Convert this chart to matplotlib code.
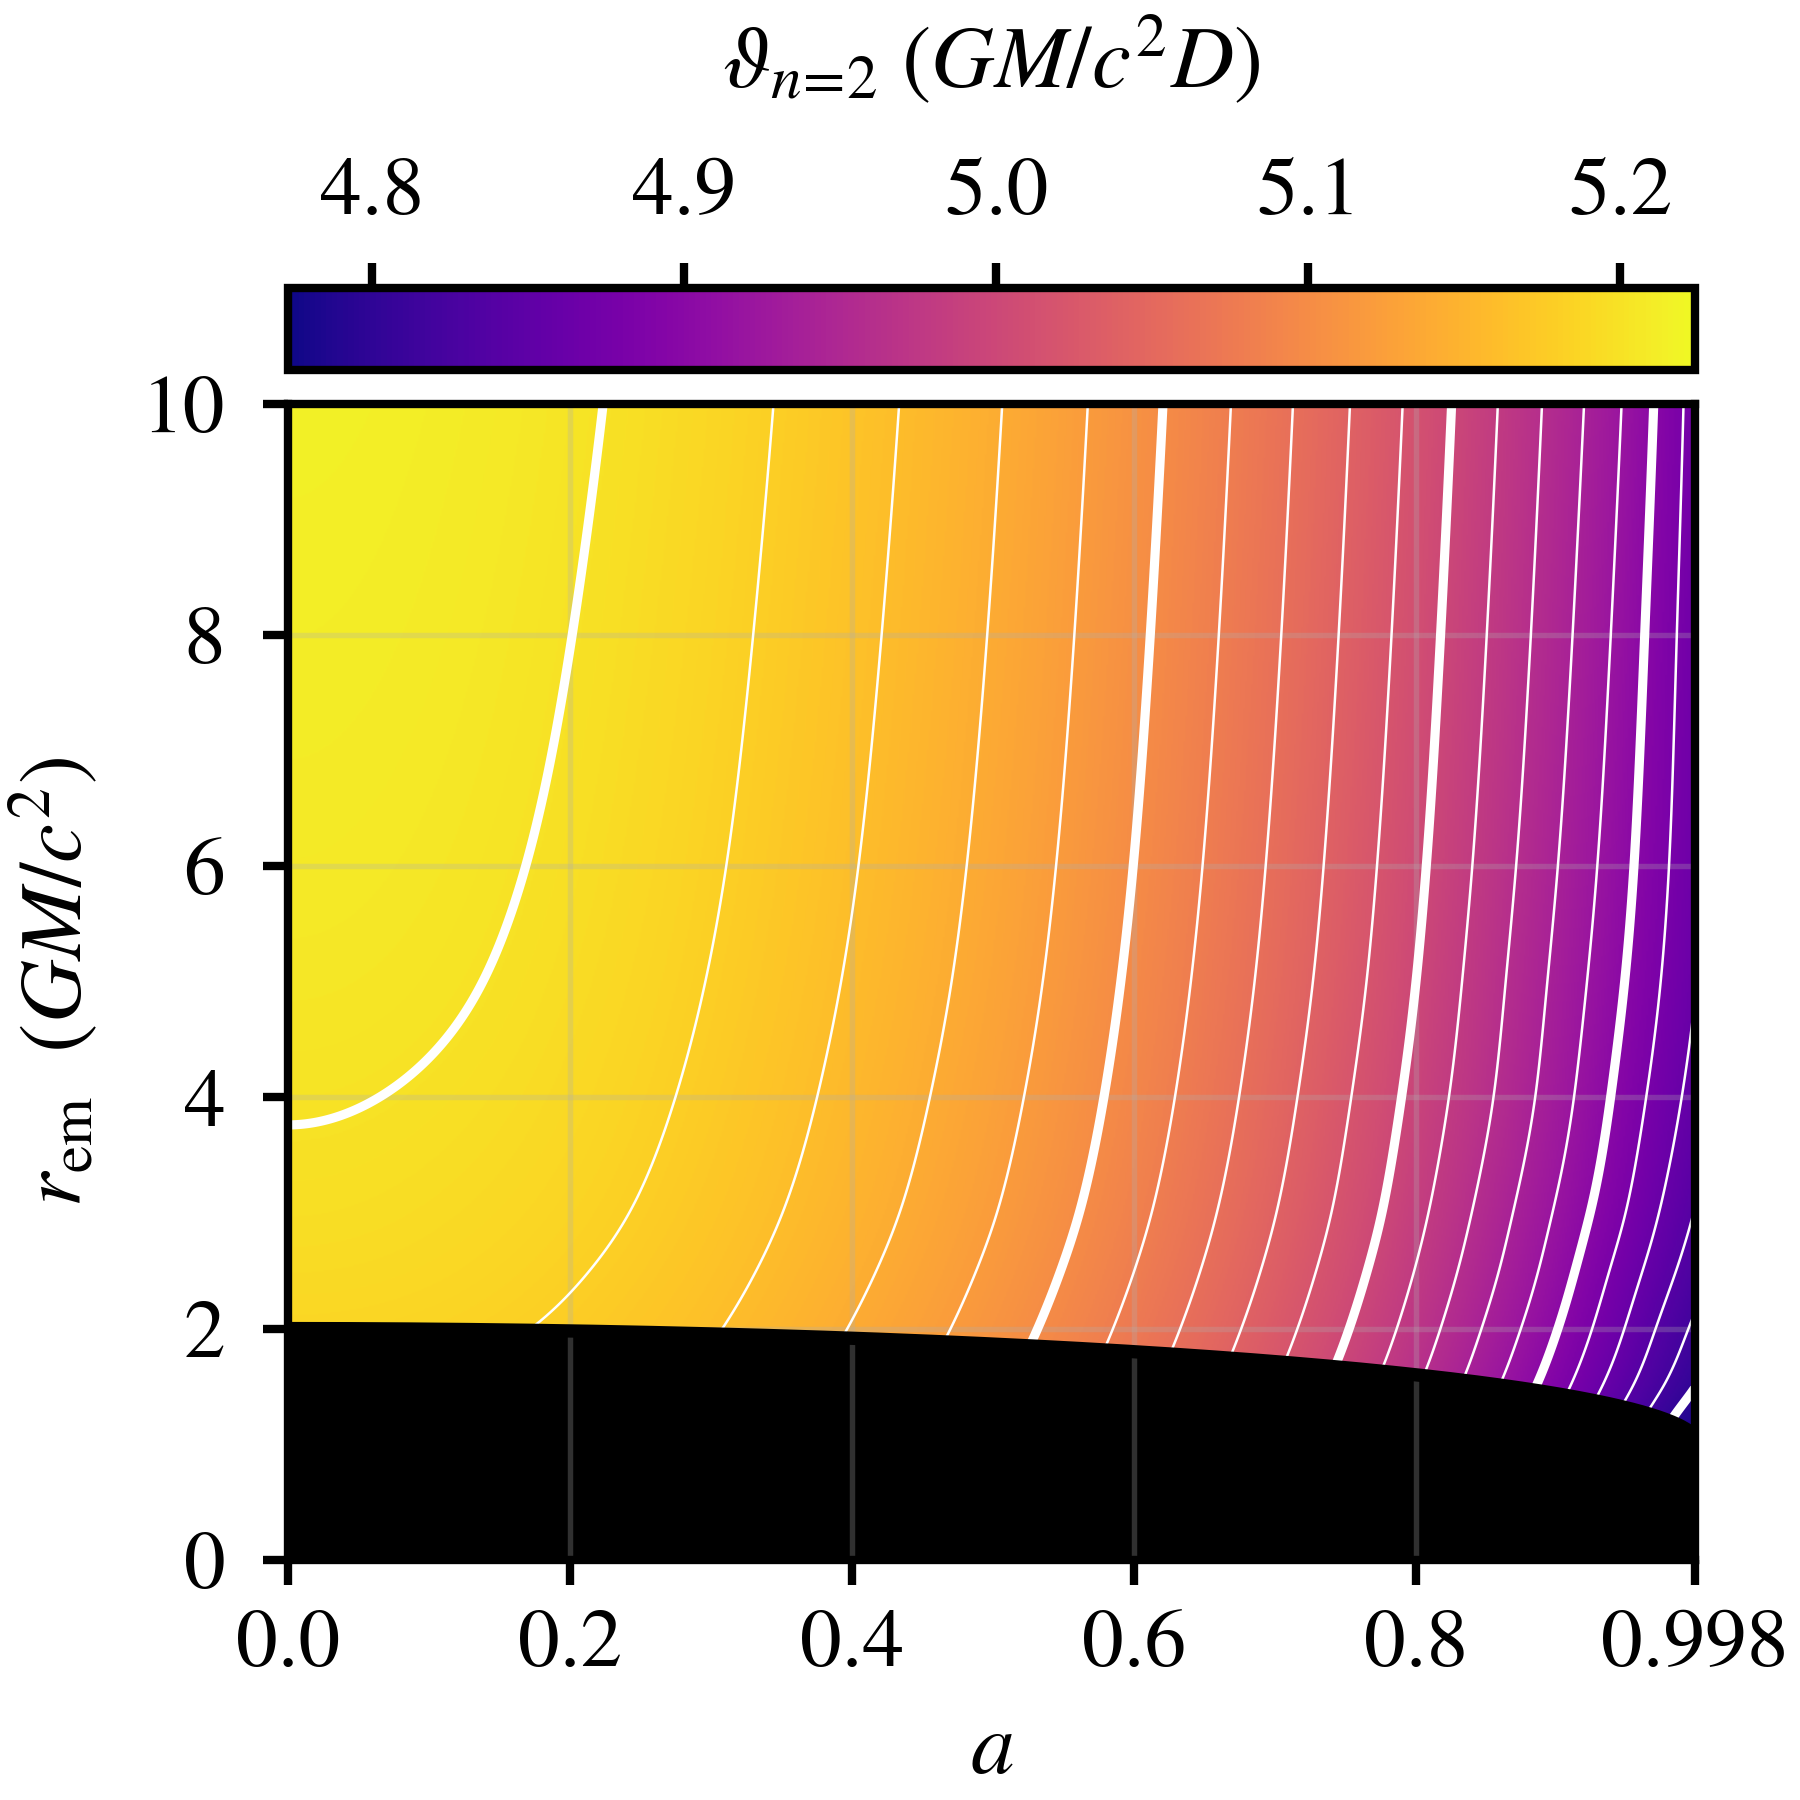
import numpy as np
import matplotlib
matplotlib.use("Agg")
import matplotlib.pyplot as plt

plt.rcParams["font.family"] = ["STIXGeneral", "DejaVu Serif"]
plt.rcParams["mathtext.fontset"] = "stix"
plt.rcParams["font.size"] = 19

# ------- values -------
SPIN = [0.0, 0.1, 0.2, 0.3, 0.4, 0.5, 0.6, 0.7, 0.8, 0.85, 0.9, 0.95, 0.975, 0.998]
R_EM = [1.0, 1.25, 1.5, 2.0, 2.5, 3.0, 4.0, 5.0, 6.0, 8.0, 10.0]

# theta_{n=2} (GM/c^2 D): one row per r_em, one column per spin
TH_R1_00 = [5.1716, 5.1695, 5.1619, 5.1458, 5.1222, 5.0922, 5.0539, 5.0059, 4.9459, 4.9095, 4.8680, 4.8194, 4.7946, 4.7723]
TH_R1_25 = [5.1770, 5.1748, 5.1670, 5.1512, 5.1280, 5.0985, 5.0607, 5.0135, 4.9545, 4.9190, 4.8790, 4.8323, 4.8080, 4.7863]
TH_R1_50 = [5.1813, 5.1790, 5.1712, 5.1554, 5.1326, 5.1035, 5.0662, 5.0195, 4.9614, 4.9266, 4.8879, 4.8434, 4.8203, 4.8003]
TH_R2_0 = [5.1875, 5.1851, 5.1771, 5.1616, 5.1392, 5.1107, 5.0740, 5.0282, 4.9714, 4.9375, 4.9005, 4.8580, 4.8355, 4.8160]
TH_R2_5 = [5.1924, 5.1899, 5.1817, 5.1664, 5.1444, 5.1163, 5.0801, 5.0350, 4.9792, 4.9461, 4.9100, 4.8691, 4.8478, 4.8289]
TH_R3 = [5.1960, 5.1934, 5.1855, 5.1703, 5.1486, 5.1209, 5.0851, 5.0405, 4.9855, 4.9529, 4.9176, 4.8788, 4.8577, 4.8390]
TH_R4 = [5.2011, 5.1985, 5.1905, 5.1756, 5.1542, 5.1270, 5.0918, 5.0479, 4.9940, 4.9632, 4.9289, 4.8905, 4.8706, 4.8524]
TH_R5 = [5.2052, 5.2025, 5.1941, 5.1793, 5.1582, 5.1314, 5.0964, 5.0532, 5.0000, 4.9689, 4.9352, 4.8984, 4.8788, 4.8608]
TH_R6 = [5.2080, 5.2052, 5.1967, 5.1820, 5.1611, 5.1345, 5.0998, 5.0569, 5.0043, 4.9736, 4.9404, 4.9036, 4.8835, 4.8653]
TH_R8 = [5.2117, 5.2089, 5.2002, 5.1856, 5.1650, 5.1388, 5.1045, 5.0621, 5.0102, 4.9801, 4.9476, 4.9104, 4.8887, 4.8686]
TH_R10 = [5.2145, 5.2116, 5.2029, 5.1884, 5.1680, 5.1420, 5.1080, 5.0660, 5.0147, 4.9850, 4.9530, 4.9165, 4.8940, 4.8720]

VMIN, VMAX = 4.773, 5.224
THIN_LEVELS = [4.78, 4.82, 4.84, 4.86, 4.88, 4.92, 4.94, 4.96, 4.98, 5.02, 5.04,
               5.06, 5.08, 5.12, 5.14, 5.16, 5.18, 5.22]
THICK_LEVELS = [4.8, 4.9, 5.0, 5.1, 5.2]
X_TICKS = [0.0, 0.2, 0.4, 0.6, 0.8, 0.998]
X_TICKLABELS = ["0.0", "0.2", "0.4", "0.6", "0.8", "0.998"]
Y_TICKS = [0, 2, 4, 6, 8, 10]
CB_TICKS = [4.8, 4.9, 5.0, 5.1, 5.2]
CB_TICKLABELS = ["4.8", "4.9", "5.0", "5.1", "5.2"]


def r_horizon(a):
    return 1.0 + np.sqrt(1.0 - a ** 2)


def spline(x, Y, xq, d0=None):
    """cubic spline along axis 0 of Y (natural, or clamped slope d0 at start)"""
    x = np.asarray(x, float)
    Y = np.asarray(Y, float)
    n = len(x)
    h = np.diff(x)
    A = np.zeros((n, n))
    B = np.zeros(Y.shape)
    if d0 is None:
        A[0, 0] = 1.0
    else:
        A[0, 0], A[0, 1] = 2 * h[0], h[0]
        B[0] = 6 * ((Y[1] - Y[0]) / h[0] - d0)
    A[-1, -1] = 1.0
    for i in range(1, n - 1):
        A[i, i - 1], A[i, i], A[i, i + 1] = h[i - 1], 2 * (h[i - 1] + h[i]), h[i]
        B[i] = 6 * ((Y[i + 1] - Y[i]) / h[i] - (Y[i] - Y[i - 1]) / h[i - 1])
    M = np.linalg.solve(A, B)
    k = np.clip(np.searchsorted(x, xq) - 1, 0, n - 2)
    hk = h[k][:, None]
    t = ((xq - x[k]) / h[k])[:, None]
    s = 1 - t
    return (s * Y[k] + t * Y[k + 1]
            + ((s ** 3 - s) * M[k] + (t ** 3 - t) * M[k + 1]) * hk ** 2 / 6)


def main():
    table = np.array([TH_R1_00, TH_R1_25, TH_R1_50, TH_R2_0, TH_R2_5, TH_R3,
                      TH_R4, TH_R5, TH_R6, TH_R8, TH_R10])

    na, nr = 800, 900
    a_c = (np.arange(na) + 0.5) / na * 0.998
    r_c = (np.arange(nr) + 0.5) / nr * 10.0
    # along r (in log r), then along spin (flat at a = 0)
    col = spline(np.log(R_EM), table, np.log(np.clip(r_c, 1.0, None)))
    Z = spline(SPIN, col.T, a_c, d0=0.0).T
    A, R = np.meshgrid(a_c, r_c)
    Z = np.ma.masked_where(R < r_horizon(A), Z)

    fig = plt.figure(figsize=(6, 6), dpi=300)
    ax = fig.add_axes([0.1598, 0.1335, 0.782, 0.642])
    cax = fig.add_axes([0.1598, 0.7945, 0.782, 0.0455])

    im = ax.imshow(Z, origin="lower", extent=(0, 0.998, 0, 10), aspect="auto",
                   cmap="plasma", vmin=VMIN, vmax=VMAX, interpolation="bilinear",
                   zorder=1)
    a_line = np.linspace(0, 0.998, 600)
    rh = r_horizon(a_line)
    ax.fill_between(a_line, 0, rh, color="k", lw=0, zorder=2)
    ax.set_axisbelow(False)
    ax.grid(True, color="#b0b0b0", alpha=0.28, lw=1.3)
    ax.contour(A, R, Z, levels=THIN_LEVELS, colors="w", linewidths=0.6, zorder=3)
    ax.contour(A, R, Z, levels=THICK_LEVELS, colors="w", linewidths=2.2, zorder=3)
    ax.plot(a_line, rh, "-", color="k", lw=3.2, zorder=4, solid_capstyle="butt")

    ax.set_xlim(0, 0.998)
    ax.set_ylim(0, 10)
    ax.set_xticks(X_TICKS)
    ax.set_xticklabels(X_TICKLABELS)
    ax.set_yticks(Y_TICKS)
    ax.tick_params(direction="out", length=6, width=2, labelsize=20, pad=6)
    ax.tick_params(axis="y", pad=9)
    for s in ax.spines.values():
        s.set_linewidth(2)
        s.set_zorder(5)
    ax.set_xlabel(r"$a$", fontsize=21, labelpad=7)
    ax.set_ylabel(r"$r_{\rm em}\ \ (GM/c^2)$", fontsize=21, labelpad=10)

    cb = fig.colorbar(im, cax=cax, orientation="horizontal")
    cb.set_ticks(CB_TICKS)
    cb.set_ticklabels(CB_TICKLABELS)
    cax.xaxis.set_ticks_position("top")
    cax.xaxis.set_label_position("top")
    cax.tick_params(direction="out", length=6, width=2, labelsize=20, pad=7.5)
    cb.outline.set_linewidth(2)
    cb.set_label(r"$\vartheta_{n\!=\!2}\ (GM/c^2D)$", fontsize=21, labelpad=17)

    fig.savefig("out.png", dpi=300)
    plt.close(fig)


if __name__ == "__main__":
    main()
